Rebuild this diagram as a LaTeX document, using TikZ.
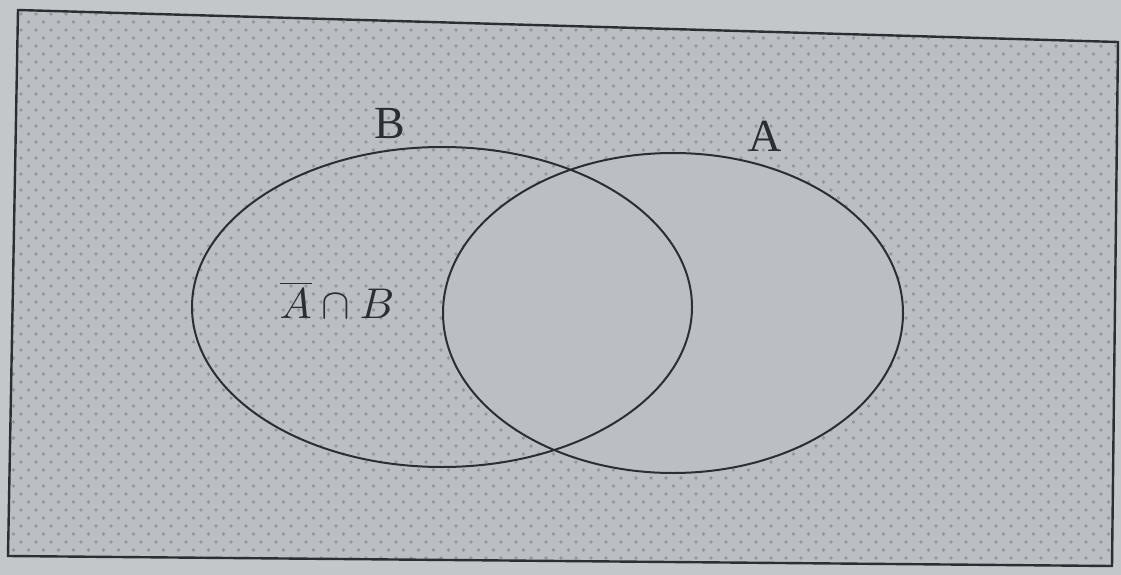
\documentclass[tikz,border=0pt]{standalone}
\usepackage{fontspec}
\setmainfont{Liberation Serif}
\definecolor{paper}{HTML}{C3C7CA}
\definecolor{setgray}{HTML}{BBBFC3}
\definecolor{dotc}{HTML}{94989C}
\definecolor{ink}{HTML}{2B2F33}
\begin{document}
\begin{tikzpicture}[x=1pt, y=-1pt,
    curve/.style={draw=ink, line width=2pt},
    lbl/.style={text=ink, inner sep=0pt}]
    % page and frame
    \useasboundingbox (0,0) rectangle (1121,575);
    \fill[paper] (0,0) rectangle (1121,575);
    \fill[setgray] (18,10) -- (1118,42) -- (1112,566) -- (8,556) -- cycle;

    % dotted complement
    \begin{scope}
        \clip (18,10) -- (1118,42) -- (1112,566) -- (8,556) -- cycle;
        \foreach \r [evaluate=\r as \yy using 14+8*\r,
                     evaluate=\r as \off using {mod(\r,2)*7.5}] in {0,...,69} {
            \foreach \c in {0,...,74} {
                \fill[dotc] (\c*15+\off+6,\yy) circle (1.9pt);
            }
        }
    \end{scope}

    % set A is left plain
    \fill[setgray] (673,313) ellipse (230 and 160);

    % the two sets
    \draw[curve] (442,307) ellipse (250 and 160);
    \draw[curve] (673,313) ellipse (230 and 160);
    \draw[ink, line width=2.4pt] (18,10) -- (1118,42) -- (1112,566) -- (8,556) -- cycle;

    % labels
    \node[lbl, font=\fontsize{46}{52}\selectfont] (labB) at (390,124) {B};
    \node[lbl, font=\fontsize{46}{52}\selectfont] (labA) at (765,136) {A};
    \node[lbl, scale=4.3] (comp) at (337,300) {$\overline{A}\cap B$};
\end{tikzpicture}
\end{document}
